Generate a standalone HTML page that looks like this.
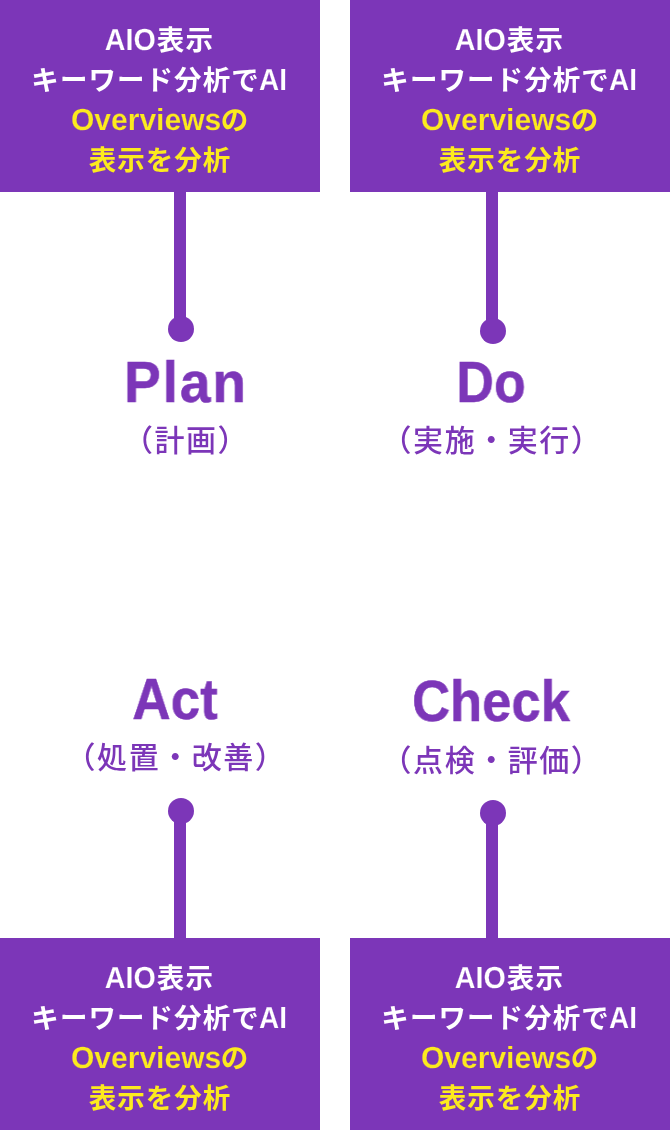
<!DOCTYPE html>
<html lang="ja">
<head>
<meta charset="utf-8">
<title>PDCA</title>
<style>
  html, body { margin: 0; padding: 0; background: #fff; }
  body { width: 670px; height: 1130px; position: relative; overflow: hidden;
    font-family: "Liberation Sans", "Noto Sans CJK JP", sans-serif; }
  .box { position: absolute; width: 320px; height: 192px; background: #7c36b8; color: #fff;
    text-align: center; font-weight: 700; font-size: 27.5px; line-height: 40px; letter-spacing: 1.05px; box-sizing: border-box; padding-top: 21px; }
  .box p { margin: 0; white-space: nowrap; will-change: transform; }
  .box .y { color: #fcea1e; }
  .box .en { display: inline-block; -webkit-text-stroke: 0.2px #7c36b8; font-size: 30.5px; letter-spacing: 0; line-height: 1; transform-origin: 0 83%; }
  .box .aio { transform: translateX(-1.2px) rotate(0.05deg) scaleX(0.94); margin-right: -3.4px; }
  .box .ai { transform: rotate(0.05deg) scaleX(0.915); margin-left: -0.6px; margin-right: -3px; }
  .box .ov { transform: rotate(0.05deg) scaleX(0.984); margin-right: -2.4px; }
  .box .l2 { position: relative; left: -1px; }
  .line { position: absolute; width: 12px; background: #7c36b8; }
  .dot { position: absolute; width: 26px; height: 26px; border-radius: 50%; background: #7c36b8; }
  .ttl { position: absolute; will-change: transform; color: #7c36b8; -webkit-text-stroke: 0.5px #7c36b8; font-weight: 700; font-size: 55px; line-height: 60px; white-space: nowrap; text-align: center; transform: translateX(-50%); }
  .sub { position: absolute; will-change: transform; color: #7c36b8; font-weight: 500; font-size: 30px; line-height: 40px; white-space: nowrap; text-align: center; transform: translateX(-50%); letter-spacing: 1.55px; }
</style>
</head>
<body>
  <div class="box" style="left:0;top:0"><p><span class="en aio">AIO</span>表示</p><p class="l2">キーワード分析で<span class="en ai">AI</span></p><p class="y"><span class="en ov">Overviews</span>の</p><p class="y">表示を分析</p></div>
  <div class="box" style="left:350px;top:0"><p><span class="en aio">AIO</span>表示</p><p class="l2">キーワード分析で<span class="en ai">AI</span></p><p class="y"><span class="en ov">Overviews</span>の</p><p class="y">表示を分析</p></div>
  <div class="box" style="left:0;top:938px"><p><span class="en aio">AIO</span>表示</p><p class="l2">キーワード分析で<span class="en ai">AI</span></p><p class="y"><span class="en ov">Overviews</span>の</p><p class="y">表示を分析</p></div>
  <div class="box" style="left:350px;top:938px"><p><span class="en aio">AIO</span>表示</p><p class="l2">キーワード分析で<span class="en ai">AI</span></p><p class="y"><span class="en ov">Overviews</span>の</p><p class="y">表示を分析</p></div>

  <div class="line" style="left:174px;top:191px;height:138px"></div>
  <div class="dot" style="left:168px;top:316px"></div>
  <div class="line" style="left:486px;top:191px;height:138px"></div>
  <div class="dot" style="left:480px;top:318px"></div>

  <div class="line" style="left:174px;top:811px;height:128px"></div>
  <div class="dot" style="left:168px;top:798px"></div>
  <div class="line" style="left:486px;top:813px;height:126px"></div>
  <div class="dot" style="left:480px;top:800px"></div>

  <div class="ttl" id="plan" style="left:186px;top:352px;font-size:58px;letter-spacing:2px;transform:translateX(-50%) scaleX(0.95)">Plan</div>
  <div class="sub" id="plan-s" style="left:185.5px;top:421px">（計画）</div>
  <div class="ttl" id="do" style="left:491.3px;top:352px;font-size:58px;transform:translateX(-50%) scaleX(0.895)">Do</div>
  <div class="sub" id="do-s" style="left:492px;top:421px">（実施・実行）</div>
  <div class="ttl" id="act" style="left:175px;top:669px;font-size:58px;transform:translateX(-50%) scaleX(0.914)">Act</div>
  <div class="sub" id="act-s" style="left:175.8px;top:738px">（処置・改善）</div>
  <div class="ttl" id="check" style="left:491.1px;top:672px;font-size:56.5px;transform:translateX(-50%) scaleX(0.93)">Check</div>
  <div class="sub" id="check-s" style="left:491.6px;top:741px">（点検・評価）</div>
</body>
</html>
